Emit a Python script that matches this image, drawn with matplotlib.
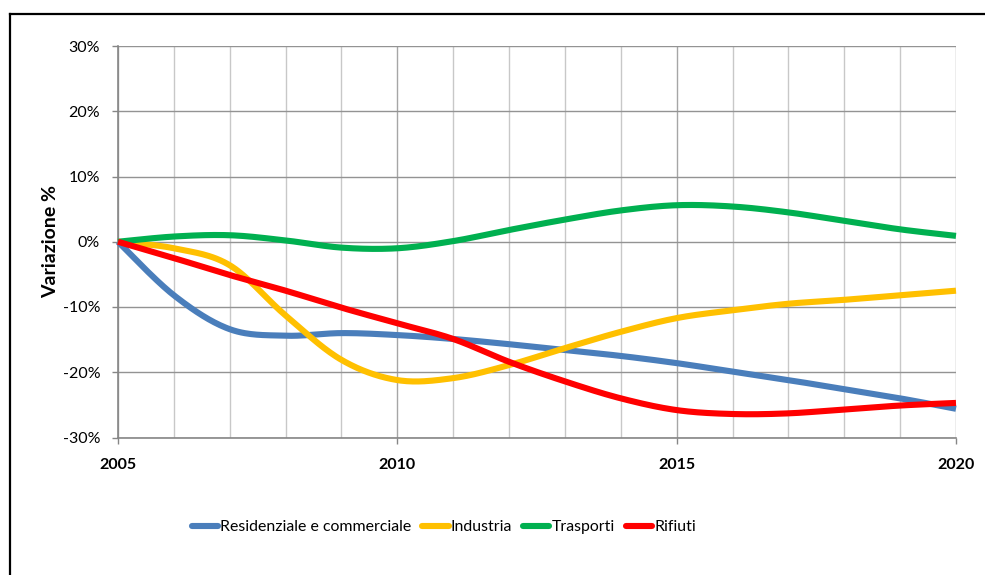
import numpy as np
import matplotlib
matplotlib.use("Agg")
import matplotlib.pyplot as plt
from matplotlib.lines import Line2D
from matplotlib.ticker import MultipleLocator, FuncFormatter

plt.rcParams['font.family'] = ['Lato', 'DejaVu Sans']

years = list(range(2005, 2021))
residenziale = [0.0, -8.2, -13.4, -14.4, -14.0, -14.3, -14.9, -15.7, -16.6, -17.5,
                -18.6, -19.9, -21.2, -22.6, -24.0, -25.6]
industria = [0.0, -1.0, -3.6, -11.3, -18.1, -21.2, -20.9, -18.9, -16.3, -13.8,
             -11.7, -10.5, -9.5, -8.9, -8.2, -7.5]
trasporti = [0.0, 0.8, 1.0, 0.2, -0.9, -1.0, 0.1, 1.8, 3.4, 4.8,
             5.6, 5.4, 4.5, 3.2, 1.9, 0.9]
rifiuti = [0.0, -2.5, -5.1, -7.5, -10.1, -12.5, -14.9, -18.4, -21.4, -24.0,
           -25.8, -26.4, -26.3, -25.7, -25.1, -24.7]

series_names = ["Residenziale e commerciale", "Industria", "Trasporti", "Rifiuti"]
series_values = [residenziale, industria, trasporti, rifiuti]
series_colors = ["#4A7EBB", "#FFC000", "#00B050", "#FF0000"]


def smooth(x, y, n=30):
    """Bezier smoothing through every point (spreadsheet-style smoothed line)."""
    x = np.asarray(x, float)
    y = np.asarray(y, float)
    px = np.concatenate([[x[0]], x, [x[-1]]])
    py = np.concatenate([[y[0]], y, [y[-1]]])
    xs, ys = [], []
    t = np.linspace(0, 1, n)
    for i in range(1, len(px) - 2):
        p0x, p1x, p2x, p3x = px[i - 1], px[i], px[i + 1], px[i + 2]
        p0y, p1y, p2y, p3y = py[i - 1], py[i], py[i + 1], py[i + 2]
        c1x, c1y = p1x + (p2x - p0x) / 6, p1y + (p2y - p0y) / 6
        c2x, c2y = p2x - (p3x - p1x) / 6, p2y - (p3y - p1y) / 6
        bx = (1 - t) ** 3 * p1x + 3 * (1 - t) ** 2 * t * c1x + 3 * (1 - t) * t ** 2 * c2x + t ** 3 * p2x
        by = (1 - t) ** 3 * p1y + 3 * (1 - t) ** 2 * t * c1y + 3 * (1 - t) * t ** 2 * c2y + t ** 3 * p2y
        if i > 1:
            bx, by = bx[1:], by[1:]
        xs.append(bx)
        ys.append(by)
    return np.concatenate(xs), np.concatenate(ys)


W, H = 985, 575
fig = plt.figure(figsize=(W / 100, H / 100), dpi=100)
ax = fig.add_axes([118 / W, 1 - 437.5 / H, (956 - 118) / W, (437.5 - 46) / H])

ax.set_xlim(2005, 2020)
ax.set_ylim(-30, 30)

# grid: light yearly verticals, darker at labelled years and horizontals
for yr in years:
    major = (yr - 2005) % 5 == 0
    ax.axvline(yr, color="#A6A6A6" if major else "#C8C8C8", lw=1.0, zorder=0)
for v in range(-30, 31, 10):
    ax.axhline(v, color="#939393", lw=1.0, zorder=0)

for name, vals, col in zip(series_names, series_values, series_colors):
    sx, sy = smooth(years, vals)
    ax.plot(sx, sy, color=col, lw=4.4, solid_capstyle='butt',
            solid_joinstyle='round', label=name, zorder=3, clip_on=False)

for side in ["top", "right"]:
    ax.spines[side].set_visible(False)
for side in ["left", "bottom"]:
    ax.spines[side].set_color("#868686")
    ax.spines[side].set_linewidth(1.2)

ax.yaxis.set_major_locator(MultipleLocator(10))
ax.yaxis.set_major_formatter(FuncFormatter(lambda v, p: f"{int(round(v))}%"))
ax.set_xticks([2005, 2010, 2015, 2020])
ax.set_xticklabels(["2005", "2010", "2015", "2020"], fontweight="bold")
ax.tick_params(axis="y", direction="out", length=4.3, width=1, color="#868686",
               labelsize=11.5, pad=8.5, labelcolor="#000000")
ax.tick_params(axis="x", direction="out", length=4, width=1, color="#868686",
               labelsize=11.5, pad=11, labelcolor="#000000")

ax.set_ylabel("Variazione %", fontsize=14, fontweight="bold", labelpad=2.5)

handles = [Line2D([0], [0], color=c, lw=4.4, solid_capstyle='round') for c in series_colors]
fig.legend(handles, series_names, loc="center", bbox_to_anchor=(444 / W, 1 - 527 / H),
           ncol=4, frameon=False, fontsize=11.4, handlelength=1.65, handletextpad=0.15,
           columnspacing=0.7)

# outer chart frame
fig.add_artist(Line2D([10 / W, 1.0], [1 - 14 / H, 1 - 14 / H], transform=fig.transFigure,
                      color="black", lw=1.6))
fig.add_artist(Line2D([10 / W, 10 / W], [1 - 14 / H, 0], transform=fig.transFigure,
                      color="black", lw=1.6))

fig.savefig("out.png", dpi=100)
